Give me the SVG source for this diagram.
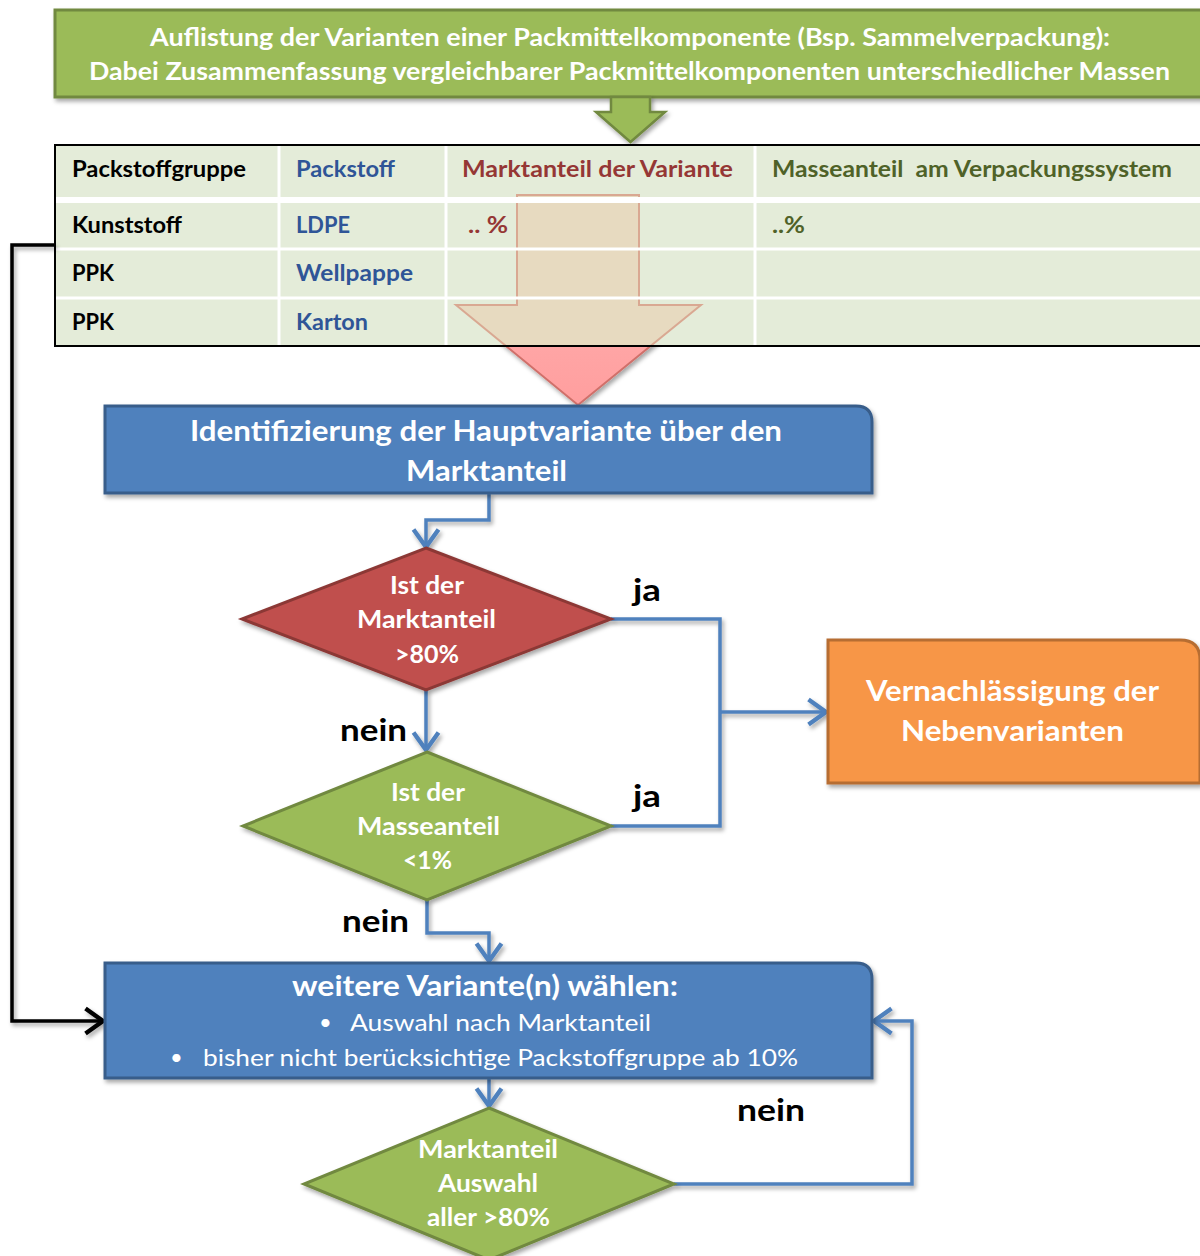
<svg xmlns="http://www.w3.org/2000/svg" width="1200" height="1256" viewBox="0 0 1200 1256">
  <style>
    text { font-family: Lato, "Open Sans", "Liberation Sans", sans-serif; }
    .w { fill: #ffffff; font-weight: 700; text-anchor: middle; }
    .cell { font-size: 22px; font-weight: 700; }
    .k { fill: #000000; }
    .b { fill: #2F5597; }
    .r { fill: #953735; }
    .g { fill: #4F6228; }
    .lbl { font-size: 31px; font-weight: 700; fill: #000000; }
    .dia { font-size: 24px; }
    .flow { fill: none; stroke: #4F81BD; stroke-width: 3.5; }
    .grid { stroke: #ffffff; }
  </style>
  <defs>
    <filter id="shadow" x="-10%" y="-10%" width="125%" height="130%">
      <feDropShadow dx="2" dy="3" stdDeviation="2" flood-color="#000000" flood-opacity="0.35"/>
    </filter>
    <marker id="ahBlue" markerUnits="userSpaceOnUse" markerWidth="30" markerHeight="30" viewBox="-16 -12 20 24" refX="0" refY="0" orient="auto">
      <path d="M-14,-10 L0,0 L-14,10" fill="none" stroke="#4F81BD" stroke-width="3.5" stroke-linejoin="miter"/>
    </marker>
    <marker id="ahBlack" markerUnits="userSpaceOnUse" markerWidth="30" markerHeight="30" viewBox="-16 -12 20 24" refX="0" refY="0" orient="auto">
      <path d="M-14,-10 L0,0 L-14,10" fill="none" stroke="#000000" stroke-width="3.5"/>
    </marker>
    <linearGradient id="pinkFill" x1="0" y1="0" x2="0" y2="1">
      <stop offset="0" stop-color="#FFB8B8"/>
      <stop offset="1" stop-color="#FF9E9E"/>
    </linearGradient>
    <clipPath id="inTable"><rect x="55" y="145" width="1150" height="201"/></clipPath>
    <clipPath id="belowTable"><rect x="0" y="346" width="1200" height="100"/></clipPath>
  </defs>

  <!-- header banner -->
  <g id="banner">
    <rect x="55" y="10" width="1150" height="87" fill="#9BBB59" stroke="#71893F" stroke-width="3" filter="url(#shadow)"/>
    <text class="w" x="630" y="46" font-size="25" textLength="960" lengthAdjust="spacingAndGlyphs">Auflistung der Varianten einer Packmittelkomponente (Bsp. Sammelverpackung):</text>
    <text class="w" x="629.5" y="80" font-size="25" textLength="1081" lengthAdjust="spacingAndGlyphs">Dabei Zusammenfassung vergleichbarer Packmittelkomponenten unterschiedlicher Massen</text>
  </g>

  <!-- block arrow from banner to table -->
  <g id="banner-arrow">
    <path d="M611,97 H650 V112 H665 L630.5,142 L596,112 H611 Z" fill="#9BBB59" stroke="#71893F" stroke-width="2.5" stroke-linejoin="miter" filter="url(#shadow)"/>
  </g>

  <!-- material table -->
  <g id="table">
    <rect x="55" y="145" width="1150" height="201" fill="#E4ECD9"/>
    <!-- large translucent arrow passing through the table -->
    <g id="table-arrow">
      <g clip-path="url(#belowTable)" filter="url(#shadow)">
        <path d="M517,195 H639 V305 H701 L578,405 L456,305 H517 Z" fill="url(#pinkFill)" stroke="#D0706A" stroke-width="2"/>
      </g>
      <g clip-path="url(#inTable)">
        <path d="M517,195 H639 V305 H701 L578,405 L456,305 H517 Z" fill="#E7DAC0" stroke="#D9A892" stroke-width="2"/>
      </g>
    </g>
    <line class="grid" x1="55" y1="200" x2="1205" y2="200" stroke-width="6"/>
    <line class="grid" x1="55" y1="249" x2="1205" y2="249" stroke-width="3"/>
    <line class="grid" x1="55" y1="298" x2="1205" y2="298" stroke-width="3"/>
    <line class="grid" x1="279" y1="146" x2="279" y2="345" stroke-width="3"/>
    <line class="grid" x1="446" y1="146" x2="446" y2="345" stroke-width="3"/>
    <line class="grid" x1="755" y1="146" x2="755" y2="345" stroke-width="3"/>
    <rect x="55" y="145" width="1150" height="201" fill="none" stroke="#000000" stroke-width="2"/>

    <text class="cell k" x="72" y="177" textLength="174" lengthAdjust="spacingAndGlyphs">Packstoffgruppe</text>
    <text class="cell b" x="296" y="177" textLength="99" lengthAdjust="spacingAndGlyphs">Packstoff</text>
    <text class="cell r" x="462" y="177" textLength="271" lengthAdjust="spacingAndGlyphs">Marktanteil der Variante</text>
    <text class="cell g" x="772" y="177" textLength="400" lengthAdjust="spacingAndGlyphs" xml:space="preserve">Masseanteil  am Verpackungssystem</text>

    <text class="cell k" x="72" y="233" textLength="110" lengthAdjust="spacingAndGlyphs">Kunststoff</text>
    <text class="cell b" x="296" y="233" textLength="54" lengthAdjust="spacingAndGlyphs">LDPE</text>
    <text class="cell r" x="468" y="233" textLength="40" lengthAdjust="spacingAndGlyphs">.. %</text>
    <text class="cell g" x="772" y="233" textLength="33" lengthAdjust="spacingAndGlyphs">..%</text>

    <text class="cell k" x="72" y="281" textLength="42" lengthAdjust="spacingAndGlyphs">PPK</text>
    <text class="cell b" x="296" y="281" textLength="117" lengthAdjust="spacingAndGlyphs">Wellpappe</text>

    <text class="cell k" x="72" y="330" textLength="42" lengthAdjust="spacingAndGlyphs">PPK</text>
    <text class="cell b" x="296" y="330" textLength="72" lengthAdjust="spacingAndGlyphs">Karton</text>
  </g>

  <!-- connectors -->
  <g id="connectors">
    <g filter="url(#shadow)">
      <path class="flow" d="M489,493 V520 H426 V547" marker-end="url(#ahBlue)"/>
      <path class="flow" d="M426,690 V750" marker-end="url(#ahBlue)"/>
      <path class="flow" d="M611,619 H720 V826 H611"/>
      <path class="flow" d="M720,712 H826" marker-end="url(#ahBlue)"/>
      <path class="flow" d="M427,900 V933 H489 V961" marker-end="url(#ahBlue)"/>
      <path class="flow" d="M489,1078 V1106" marker-end="url(#ahBlue)"/>
      <path class="flow" d="M674,1184 H912 V1021 H874" marker-end="url(#ahBlue)"/>
      <path d="M55,245 H12 V1021 H103" fill="none" stroke="#000000" stroke-width="3.5" marker-end="url(#ahBlack)"/>
    </g>
    <text class="lbl" x="633" y="601" textLength="28" lengthAdjust="spacingAndGlyphs">ja</text>
    <text class="lbl" x="340" y="741" textLength="67" lengthAdjust="spacingAndGlyphs">nein</text>
    <text class="lbl" x="633" y="807" textLength="28" lengthAdjust="spacingAndGlyphs">ja</text>
    <text class="lbl" x="342" y="932" textLength="67" lengthAdjust="spacingAndGlyphs">nein</text>
    <text class="lbl" x="737" y="1121" textLength="68" lengthAdjust="spacingAndGlyphs">nein</text>
  </g>

  <!-- main variant identification -->
  <g id="identify">
    <path d="M105,406 H856 Q872,406 872,422 V493 H105 Z" fill="#4F81BD" stroke="#385D8A" stroke-width="3" filter="url(#shadow)"/>
    <text class="w" x="486" y="441" font-size="28" textLength="592" lengthAdjust="spacingAndGlyphs">Identifizierung der Hauptvariante über den</text>
    <text class="w" x="486.5" y="481" font-size="28" textLength="161" lengthAdjust="spacingAndGlyphs">Marktanteil</text>
  </g>

  <!-- decision: market share -->
  <g id="decision-market">
    <path d="M426,548 L611,619 L426,690 L242,619 Z" fill="#C0504D" stroke="#8C3836" stroke-width="3" filter="url(#shadow)"/>
    <text class="w dia" x="427" y="594" textLength="74" lengthAdjust="spacingAndGlyphs">Ist der</text>
    <text class="w dia" x="426.5" y="628" textLength="139" lengthAdjust="spacingAndGlyphs">Marktanteil</text>
    <text class="w dia" x="427" y="663" textLength="64" lengthAdjust="spacingAndGlyphs">&gt;80%</text>
  </g>

  <!-- decision: mass share -->
  <g id="decision-mass">
    <path d="M427,752 L611,826 L427,900 L243,826 Z" fill="#9BBB59" stroke="#71893F" stroke-width="3" filter="url(#shadow)"/>
    <text class="w dia" x="428" y="801" textLength="74" lengthAdjust="spacingAndGlyphs">Ist der</text>
    <text class="w dia" x="428.5" y="835" textLength="143" lengthAdjust="spacingAndGlyphs">Masseanteil</text>
    <text class="w dia" x="427.5" y="869" textLength="49" lengthAdjust="spacingAndGlyphs">&lt;1%</text>
  </g>

  <!-- neglect secondary variants -->
  <g id="neglect">
    <path d="M828,640 H1180 Q1200,640 1200,660 V783 H828 Z" fill="#F79646" stroke="#B66D31" stroke-width="3" filter="url(#shadow)"/>
    <text class="w" x="1012.5" y="701" font-size="28" textLength="293" lengthAdjust="spacingAndGlyphs">Vernachlässigung der</text>
    <text class="w" x="1012.5" y="741" font-size="28" textLength="223" lengthAdjust="spacingAndGlyphs">Nebenvarianten</text>
  </g>

  <!-- choose further variants -->
  <g id="further">
    <path d="M105,963 H856 Q872,963 872,979 V1078 H105 Z" fill="#4F81BD" stroke="#385D8A" stroke-width="3" filter="url(#shadow)"/>
    <text class="w" x="485" y="996" font-size="28" textLength="386" lengthAdjust="spacingAndGlyphs">weitere Variante(n) wählen:</text>
    <text x="319" y="1030" font-size="22" fill="#ffffff">•</text>
    <text x="350" y="1031" font-size="24" fill="#ffffff" textLength="301" lengthAdjust="spacingAndGlyphs">Auswahl nach Marktanteil</text>
    <text x="170" y="1065" font-size="22" fill="#ffffff">•</text>
    <text x="203" y="1066" font-size="24" fill="#ffffff" textLength="595" lengthAdjust="spacingAndGlyphs">bisher nicht berücksichtige Packstoffgruppe ab 10%</text>
  </g>

  <!-- decision: total market share -->
  <g id="decision-total">
    <path d="M489,1108 L674,1184 L489,1260 L304,1184 Z" fill="#9BBB59" stroke="#71893F" stroke-width="3" filter="url(#shadow)"/>
    <text class="w dia" x="488" y="1158" textLength="140" lengthAdjust="spacingAndGlyphs">Marktanteil</text>
    <text class="w dia" x="488" y="1192" textLength="100" lengthAdjust="spacingAndGlyphs">Auswahl</text>
    <text class="w dia" x="488.5" y="1226" textLength="123" lengthAdjust="spacingAndGlyphs">aller &gt;80%</text>
  </g>
</svg>
